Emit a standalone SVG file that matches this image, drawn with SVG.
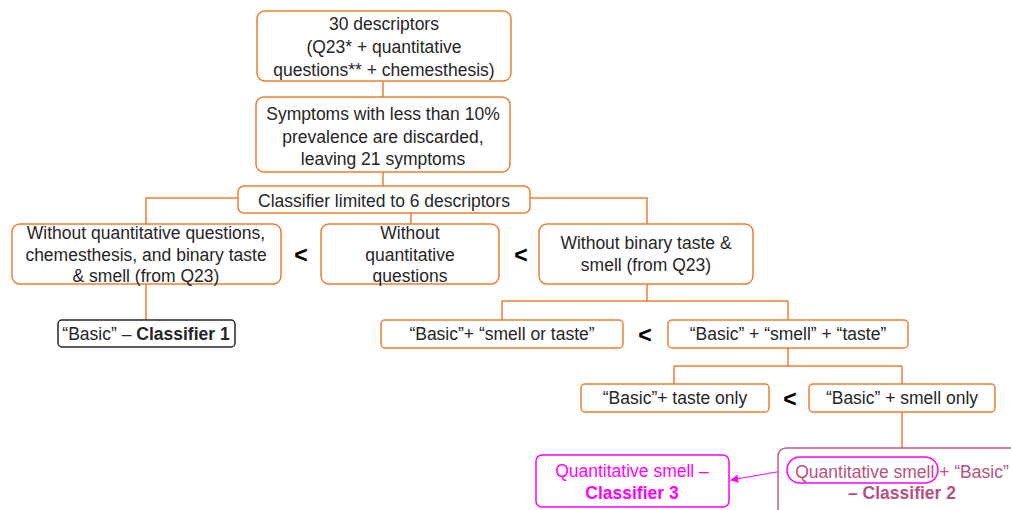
<svg xmlns="http://www.w3.org/2000/svg" width="1011" height="510" viewBox="0 0 1011 510">
<defs>
<style>
.b{fill:#fff;stroke:#ED7D31;stroke-width:1.5}
.t{font-family:"Liberation Sans",Arial,sans-serif;font-size:17.5px;fill:#262626;text-anchor:middle}
.c{fill:none;stroke:#ED7D31;stroke-width:1.5}
.lt{font-family:"Liberation Sans",Arial,sans-serif;font-size:23px;font-weight:bold;fill:#000;text-anchor:middle}
.bold{font-weight:bold}
</style>
<marker id="ah" viewBox="0 0 10 10" refX="9" refY="5" markerWidth="8" markerHeight="8" orient="auto" markerUnits="userSpaceOnUse">
<path d="M0,0 L10,5 L0,10 z" fill="#FF00FF"/>
</marker>
</defs>
<rect width="1011" height="510" fill="#fff"/>
<g id="connectors">
<path class="c" d="M383,81 V97"/>
<path class="c" d="M383,172 V186"/>
<path class="c" d="M238,198 H146 V224"/>
<path class="c" d="M530,198 H647 V224"/>
<path class="c" d="M411,213 V224"/>
<path class="c" d="M146,284 V320"/>
<path class="c" d="M647,284 V301 M502,301 H788 M502,301 V320 M788,301 V320"/>
<path class="c" d="M788,348 V366 M674,366 H902 M674,366 V384 M902,366 V384"/>
<path class="c" d="M902,412 V448"/>
<path d="M788,470 L731,480" fill="none" stroke="#FF00FF" stroke-width="1" marker-end="url(#ah)"/>
</g>
<g id="n1"><rect class="b" x="257" y="11" width="254" height="70" rx="8"/>
<text class="t" x="384" y="30">30 descriptors</text>
<text class="t" x="384" y="53">(Q23* + quantitative</text>
<text class="t" x="384" y="76">questions** + chemesthesis)</text></g>
<g id="n2"><rect class="b" x="256" y="97" width="254" height="75" rx="8"/>
<text class="t" x="383" y="120">Symptoms with less than 10%</text>
<text class="t" x="383" y="143">prevalence are discarded,</text>
<text class="t" x="383" y="165">leaving 21 symptoms</text></g>
<g id="n3"><rect class="b" x="238" y="186" width="292" height="27" rx="6"/>
<text class="t" x="384" y="207">Classifier limited to 6 descriptors</text></g>
<g id="n4"><rect class="b" x="12" y="224" width="269" height="60" rx="8"/>
<text class="t" x="146" y="239">Without quantitative questions,</text>
<text class="t" x="146" y="261">chemesthesis, and binary taste</text>
<text class="t" x="146" y="282">&amp; smell (from Q23)</text></g>
<g id="n5"><rect class="b" x="321" y="224" width="178" height="60" rx="8"/>
<text class="t" x="410" y="239">Without</text>
<text class="t" x="410" y="261">quantitative</text>
<text class="t" x="410" y="282">questions</text></g>
<g id="n6"><rect class="b" x="539" y="224" width="214" height="60" rx="8"/>
<text class="t" x="646" y="249">Without binary taste &amp;</text>
<text class="t" x="646" y="271">smell (from Q23)</text></g>
<g id="lt1"><text class="lt" x="301" y="263">&lt;</text></g>
<g id="lt2"><text class="lt" x="521" y="263">&lt;</text></g>
<g id="n7"><rect x="58" y="320" width="177" height="27" rx="4" fill="#fff" stroke="#262626" stroke-width="1.5"/>
<text class="t" x="146" y="340">“Basic” – <tspan class="bold">Classifier 1</tspan></text></g>
<g id="n8"><rect class="b" x="381" y="320" width="242" height="28" rx="4"/>
<text class="t" x="502" y="340">“Basic”+ “smell or taste”</text></g>
<g id="lt3"><text class="lt" x="645" y="343">&lt;</text></g>
<g id="n9"><rect class="b" x="668" y="320" width="240" height="28" rx="4"/>
<text class="t" x="788" y="340">“Basic” + “smell” + “taste”</text></g>
<g id="n10"><rect class="b" x="581" y="384" width="188" height="28" rx="4"/>
<text class="t" x="675" y="404">“Basic”+ taste only</text></g>
<g id="lt4"><text class="lt" x="790" y="407">&lt;</text></g>
<g id="n11"><rect class="b" x="809" y="384" width="186" height="28" rx="4"/>
<text class="t" x="902" y="404">“Basic” + smell only</text></g>
<g id="n12"><rect x="778" y="448" width="260" height="80" rx="8" fill="#fff" stroke="#C55A8A" stroke-width="1.5"/>
<text class="t" x="902" y="478" style="fill:#B9507F">Quantitative smell + “Basic”</text>
<text class="t" x="902" y="499" style="fill:#B9507F;font-weight:bold">– Classifier 2</text>
<rect x="787" y="457" width="151" height="26" rx="13" fill="none" stroke="#FF00FF" stroke-width="1.5"/></g>
<g id="n13"><rect x="536" y="455" width="193" height="52" rx="6" fill="#fff" stroke="#FF00FF" stroke-width="1.5"/>
<text class="t" x="632" y="477" style="fill:#FF00FF">Quantitative smell –</text>
<text class="t" x="632" y="499" style="fill:#FF00FF;font-weight:bold">Classifier 3</text></g>
</svg>
